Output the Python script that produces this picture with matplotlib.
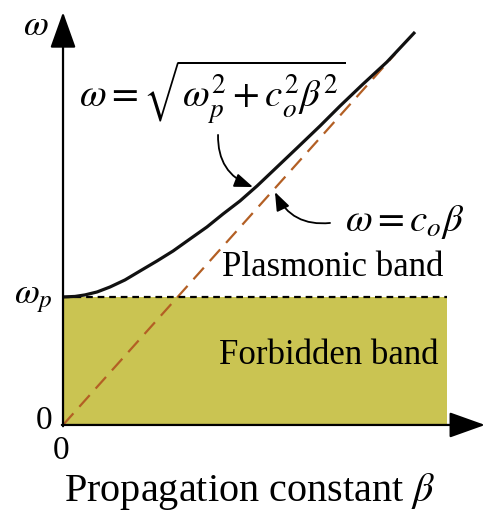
"""Dispersion relation of a plasma: plasmonic band above the plasma frequency."""

import matplotlib.pyplot as plt
from matplotlib.patches import Rectangle

plt.rcParams["font.family"] = ["Liberation Serif", "DejaVu Serif"]
plt.rcParams["mathtext.fontset"] = "stix"

# omega / omega_p against beta (units with c_o = 1)
OMEGA_P = 1.0
BETA_MAX = 3.34

beta_curve = [0.0, 0.104, 0.191, 0.296, 0.409, 0.539, 0.670, 0.817, 0.957,
              1.104, 1.252, 1.391, 1.539, 1.687, 1.843, 2.035, 2.235, 2.409,
              2.600, 2.817, 3.061]
omega_curve = [1.000, 1.004, 1.016, 1.039, 1.078, 1.133, 1.203, 1.281, 1.359,
               1.453, 1.547, 1.648, 1.750, 1.867, 2.000, 2.164, 2.336, 2.492,
               2.656, 2.836, 3.070]

beta_light = [0.0, 2.89]
omega_light = [0.0, 2.90]

FILL_COLOR = "#cac452"
LIGHT_COLOR = "#b35f24"

fig = plt.figure(figsize=(4.9, 5.12), dpi=100)
ax = fig.add_axes([0, 0, 1, 1])
ax.set_xlim(-0.548, 3.713)
ax.set_ylim(-0.680, 3.320)
ax.axis("off")

# forbidden band below omega_p
ax.add_patch(Rectangle((0, 0), BETA_MAX, OMEGA_P, facecolor=FILL_COLOR,
                       edgecolor="none", zorder=1))
ax.plot([0, BETA_MAX], [OMEGA_P, OMEGA_P], color="black", lw=1.6,
        dashes=(3.0, 2.2), zorder=3)

# light line and plasma dispersion curve
ax.plot(beta_light, omega_light, color=LIGHT_COLOR, lw=1.6,
        dashes=(7, 4), zorder=2)
ax.plot(beta_curve, omega_curve, color="#111111", lw=2.3, zorder=4,
        solid_capstyle="butt", solid_joinstyle="round")

# axes with arrow heads
arrow = dict(arrowstyle="-|>,head_length=1.4,head_width=0.5",
             color="black", lw=1.6, mutation_scale=16, shrinkA=0, shrinkB=0)
ax.annotate("", xy=(3.67, 0), xytext=(-0.01, 0), arrowprops=arrow, zorder=5)
ax.annotate("", xy=(0, 3.225), xytext=(0, -0.01), arrowprops=arrow, zorder=5)

ax.text(-0.235, 3.11, r"$\omega$", fontsize=26, ha="center", va="center")
ax.text(-0.26, 0.99, r"$\omega_p$", fontsize=26, ha="center", va="center")
ax.text(-0.165, 0.03, "0", fontsize=24, ha="center", va="center")
ax.text(-0.017, -0.20, "0", fontsize=24, ha="center", va="center")

ax.text(1.296, 2.60, r"$\omega = \sqrt{\omega_p^2 + c_o^2\beta^2}$",
        fontsize=28, ha="center", va="center")
ax.text(2.974, 1.586, r"$\omega = c_o\beta$", fontsize=28,
        ha="center", va="center")
ax.text(2.348, 1.227, "Plasmonic band", fontsize=25, ha="center", va="center")
ax.text(2.313, 0.539, "Forbidden band", fontsize=25, ha="center", va="center")
ax.text(1.626, -0.523, r"Propagation constant $\beta$", fontsize=29,
        ha="center", va="center")

# pointers from the formulas to their curves
pointer = dict(arrowstyle="-|>,head_length=0.8,head_width=0.3",
               color="black", lw=1.3, mutation_scale=14, shrinkA=0, shrinkB=0)
ax.annotate("", xy=(1.652, 1.859), xytext=(1.348, 2.266),
            arrowprops=dict(pointer, connectionstyle="arc3,rad=0.35"))
ax.annotate("", xy=(1.843, 1.820), xytext=(2.322, 1.578),
            arrowprops=dict(pointer, connectionstyle="arc3,rad=-0.35"))

fig.savefig("out.png", dpi=100)
